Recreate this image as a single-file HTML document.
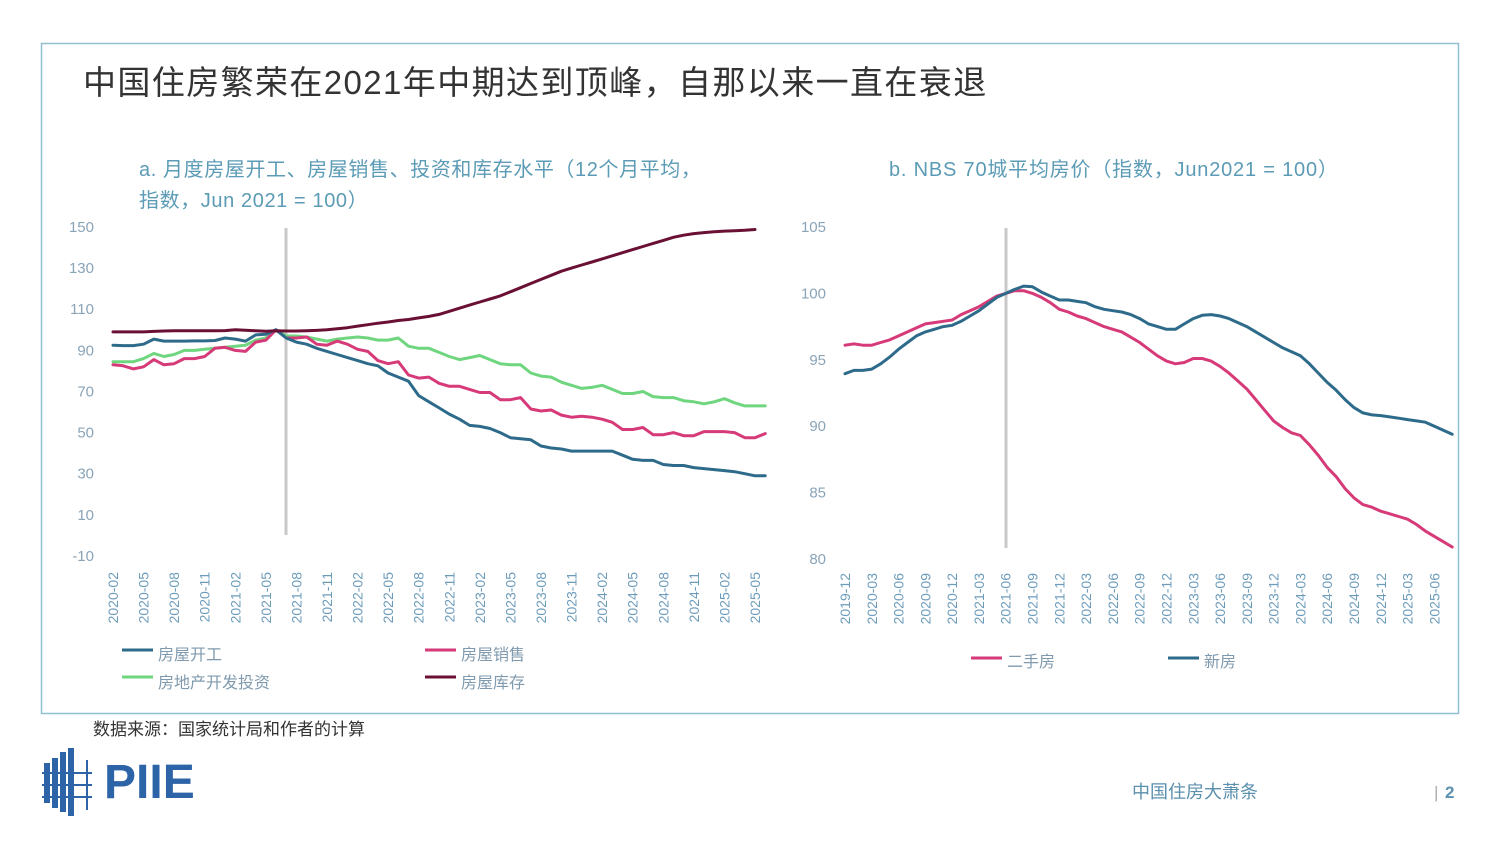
<!DOCTYPE html>
<html><head><meta charset="utf-8"><style>
body{margin:0;background:#fff;width:1500px;height:843px;overflow:hidden;font-family:"Liberation Sans","Noto Sans CJK SC",sans-serif}
svg text{font-family:"Liberation Sans","Noto Sans CJK SC",sans-serif}
</style></head><body>
<svg id="s" width="1500" height="843" viewBox="0 0 1500 843" xmlns="http://www.w3.org/2000/svg">
<rect x="41.5" y="43.5" width="1417" height="670" fill="none" stroke="#8fbfd0" stroke-width="1.5"/>
<text x="83" y="94" font-size="33" letter-spacing="1.4" fill="#333">中国住房繁荣在2021年中期达到顶峰，自那以来一直在衰退</text>
<text x="139" y="176" font-size="20" letter-spacing="0.6" fill="#5b9bb5">a. 月度房屋开工、房屋销售、投资和库存水平（12个月平均，</text>
<text x="139" y="207" font-size="20" letter-spacing="0.6" fill="#5b9bb5">指数，Jun 2021 = 100）</text>
<text x="889" y="176" font-size="20" letter-spacing="0.8" fill="#5b9bb5">b. NBS 70城平均房价（指数，Jun2021 = 100）</text>
<g id="left"></g>
<g id="right"></g>
<g>
<line x1="122" y1="650" x2="153" y2="650" stroke="#2e6b8a" stroke-width="3"/><text x="158" y="660" font-size="16" fill="#7f9aae">房屋开工</text>
<line x1="425" y1="650" x2="456" y2="650" stroke="#d63a78" stroke-width="3"/><text x="461" y="660" font-size="16" fill="#7f9aae">房屋销售</text>
<line x1="122" y1="677" x2="153" y2="677" stroke="#6fd67f" stroke-width="3"/><text x="158" y="688" font-size="16" fill="#7f9aae">房地产开发投资</text>
<line x1="425" y1="677" x2="456" y2="677" stroke="#6b1035" stroke-width="3"/><text x="461" y="688" font-size="16" fill="#7f9aae">房屋库存</text>
</g>
<g>
<line x1="971" y1="658" x2="1002" y2="658" stroke="#d63a78" stroke-width="3"/><text x="1007" y="667" font-size="16" fill="#7f9aae">二手房</text>
<line x1="1168" y1="658" x2="1199" y2="658" stroke="#2e6b8a" stroke-width="3"/><text x="1204" y="667" font-size="16" fill="#7f9aae">新房</text>
</g>
<text x="93" y="735" font-size="17" fill="#333">数据来源：国家统计局和作者的计算</text>
<g fill="#2d64a8">
<rect x="44" y="763" width="6" height="40"/><rect x="52" y="758" width="6" height="50"/><rect x="60" y="752" width="6" height="60"/><rect x="68" y="748" width="6" height="68"/>
<rect x="42" y="772" width="50" height="2"/><rect x="42" y="784" width="50" height="2"/><rect x="42" y="796" width="50" height="2"/><rect x="86" y="760" width="2" height="50"/>
<text x="104" y="798" font-size="48" font-weight="bold" fill="#2d64a8">PIIE</text>
</g>
<text x="1132" y="798" font-size="18" fill="#5b8fae">中国住房大萧条</text>
<text x="1434" y="798" font-size="17" fill="#aaa">|</text>
<text x="1445" y="798" font-size="17" font-weight="bold" fill="#5b8fae">2</text>
</svg>
<script>
const leftTicks=[150,130,110,90,70,50,30,10,-10];
const leftStart=[2020,2];
const starts=[92.5,92.3,92.3,93,95.5,94.5,94.5,94.5,94.6,94.6,94.8,96,95.5,94.5,97.5,97.8,100,96,94,93,91,89.5,88,86.5,85,83.5,82.5,79,77,75,68,65,62,59,56.5,53.5,53,52,50,47.5,47,46.5,43.5,42.5,42,41,41,41,41,41,39,37,36.5,36.5,34.5,34,34,33,32.5,32,31.5,31,30,29,29];
const sales=[83,82.5,81,82,85.5,83,83.5,86,86,87,91,91.5,90,89.5,94,95,100,96,96,96.5,93,92.5,94.5,93,90.5,89.5,85,83.5,84.5,78,76.5,77,74,72.5,72.5,71,69.5,69.5,66,66,67,61.5,60.5,61,58.5,57.5,58,57.5,56.5,55,51.5,51.5,52.5,49,49,50,48.5,48.5,50.5,50.5,50.5,50,47.5,47.5,49.5];
const invest=[84.5,84.5,84.5,86,88.5,87,88,90,90,90.5,91,91.5,92,92.5,95,96,100,97,97,96.5,95.5,94.5,95.5,96,96.5,96,95,95,96,92,91,91,89,87,85.5,86.5,87.5,85.5,83.5,83,83,79,77.5,77,74.5,73,71.5,72,73,71,69,69,70,67.5,67,67,65.5,65,64,65,66.5,64.5,63,63,63];
const stock=[99,99,99,99,99.2,99.4,99.5,99.5,99.5,99.5,99.5,99.6,100,99.8,99.5,99.3,99.5,99.4,99.4,99.5,99.7,100,100.5,101,101.8,102.5,103.2,103.8,104.5,105,105.8,106.5,107.5,109,110.5,112,113.5,115,116.5,118.5,120.5,122.5,124.5,126.5,128.5,130,131.5,133,134.5,136,137.5,139,140.5,142,143.5,145,146,146.8,147.3,147.7,148,148.2,148.4,148.8];
const rightTicks=[105,100,95,90,85,80];
const rightStart=[2019,12];
const newHome=[93.95,94.2,94.2,94.3,94.7,95.2,95.8,96.3,96.8,97.1,97.3,97.5,97.6,97.9,98.3,98.7,99.2,99.7,100,100.3,100.55,100.5,100.1,99.8,99.5,99.5,99.4,99.3,99.0,98.8,98.7,98.6,98.4,98.1,97.7,97.5,97.3,97.3,97.7,98.1,98.35,98.4,98.3,98.1,97.8,97.5,97.1,96.7,96.3,95.9,95.6,95.3,94.7,94.0,93.3,92.7,92.0,91.4,91.0,90.85,90.8,90.7,90.6,90.5,90.4,90.3,90.0,89.7,89.4];
const resale=[96.1,96.2,96.1,96.1,96.3,96.5,96.8,97.1,97.4,97.7,97.8,97.9,98.0,98.4,98.7,99.0,99.4,99.8,100,100.2,100.2,100.0,99.7,99.3,98.8,98.6,98.3,98.1,97.8,97.5,97.3,97.1,96.7,96.3,95.8,95.3,94.9,94.7,94.8,95.1,95.1,94.9,94.5,94.0,93.4,92.8,92.0,91.2,90.4,89.9,89.5,89.3,88.6,87.8,86.9,86.2,85.3,84.6,84.1,83.9,83.6,83.4,83.2,83.0,82.6,82.1,81.7,81.3,80.9];

const NS='http://www.w3.org/2000/svg';
function mk(tag,attrs,parent){const e=document.createElementNS(NS,tag);for(const k in attrs)e.setAttribute(k,attrs[k]);parent.appendChild(e);return e;}
function lab(start,i){let m=start[1]-1+i;const y=start[0]+Math.floor(m/12);m=m%12+1;return y+'-'+(m<10?'0':'')+m;}

const L=document.getElementById('left');
const lx=i=>113+i*10.19;
const ly=v=>227+(150-v)*2.056;
leftTicks.forEach(t=>{const e=mk('text',{x:94,y:ly(t)+5,'font-size':15,fill:'#8aa4b8','text-anchor':'end'},L);e.textContent=t;

});
for(let i=0;i<starts.length;i+=3){const x=lx(i)+5;const e=mk('text',{x:x,y:572,'font-size':14,fill:'#6d9cbb','text-anchor':'end',transform:'rotate(-90 '+x+' 572)'},L);e.textContent=lab(leftStart,i);

}
const vl=mk('line',{x1:286,x2:286,y1:228,y2:535,stroke:'#c8c8c8','stroke-width':3},L);


function series(g,arr,fx,fy,col,name){const p=mk('polyline',{points:arr.map((v,i)=>fx(i).toFixed(1)+','+fy(v).toFixed(1)).join(' '),fill:'none',stroke:col,'stroke-width':3,'stroke-linejoin':'round','stroke-linecap':'round'},g);

}
series(L,invest,lx,ly,'#6fd67f','investment-line');
series(L,sales,lx,ly,'#d63a78','sales-line');
series(L,starts,lx,ly,'#2e6b8a','starts-line');
series(L,stock,lx,ly,'#6b1035','inventory-line');

const R=document.getElementById('right');
const rx=i=>845+i*8.93;
const ry=v=>227+(105-v)*13.28;
rightTicks.forEach(t=>{const e=mk('text',{x:826,y:ry(t)+5,'font-size':15,fill:'#8aa4b8','text-anchor':'end'},R);e.textContent=t;

});
for(let i=0;i<newHome.length-2;i+=3){const x=rx(i)+5;const e=mk('text',{x:x,y:573,'font-size':14,fill:'#6d9cbb','text-anchor':'end',transform:'rotate(-90 '+x+' 573)'},R);e.textContent=lab(rightStart,i);

}
const vr=mk('line',{x1:1006,x2:1006,y1:228,y2:548,stroke:'#c8c8c8','stroke-width':3},R);


series(R,resale,rx,ry,'#d63a78','resale-price-line');
series(R,newHome,rx,ry,'#2e6b8a','new-home-price-line');
</script>
</body></html>
